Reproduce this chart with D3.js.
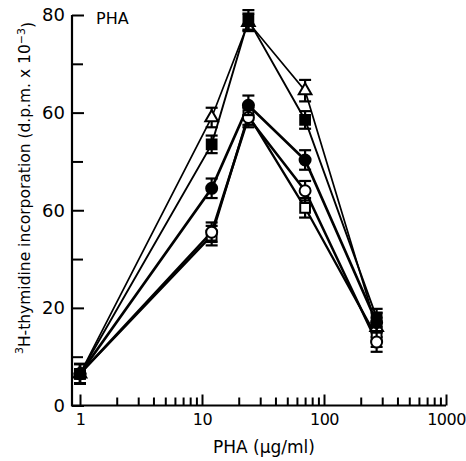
<!DOCTYPE html>
<html>
<head>
<meta charset="utf-8">
<script src="https://cdn.jsdelivr.net/npm/d3@7"></script>
<style>
	body { margin: 0; background: #fff; }
	svg text { font-family: "DejaVu Sans", sans-serif; fill: #000; }
</style>
</head>
<body>
<div id="chart"></div>
<script>
// chart data
var doses = [1, 12, 24, 70, 270];	// PHA ug/ml
var triangleVals = [6.5, 59, 78.5, 64.5, 16],
	triangleErr = [2, 2, 1.8, 2.2, 2];
var fSquareVals = [6.5, 53.5, 79, 58.5, 18],
	fSquareErr = [2, 1.8, 2, 1.8, 1.8];
var fCircleVals = [6.5, 44.5, 61.5, 50.3, 17],
	fCircleErr = [2, 2, 2, 2, 2];
var oCircleVals = [6.5, 35.5, 59, 44, 13],
	oCircleErr = [2, 2, 2, 2, 2];
var oSquareVals = [6.5, 34.8, 59.5, 40.5, 14],
	oSquareErr = [2, 2, 2, 2, 2];

var xTickVals = [1, 10, 100, 1000],
	xTickLabels = ["1", "10", "100", "1000"];
var yTickVals = [0, 20, 40, 60, 80],
	yTickLabels = ["0", "20", "60", "60", "80"];	// as printed on the figure

var series = [
	{ name: "openTriangle", vals: triangleVals, err: triangleErr, shape: "triangle", fill: "#fff", lw: 1.7 },
	{ name: "filledSquare", vals: fSquareVals, err: fSquareErr, shape: "square", fill: "#000", lw: 1.9 },
	{ name: "openSquare", vals: oSquareVals, err: oSquareErr, shape: "square", fill: "#fff", lw: 2.3 },
	{ name: "openCircle", vals: oCircleVals, err: oCircleErr, shape: "circle", fill: "#fff", lw: 2.5 },
	{ name: "filledCircle", vals: fCircleVals, err: fCircleErr, shape: "circle", fill: "#000", lw: 2.7 }
];

// viz params
var w = 466,
	h = 461;

var svg = d3.select("#chart").append("svg")
	.attr("width", w)
	.attr("height", h);

var x = d3.scaleLog().domain([1, 1000]).range([80, 446]),
	y = d3.scaleLinear().domain([0, 80]).range([405.5, 15]);

/* axes */
var xMinor = [];
[1, 10, 100].forEach(function(dec) {
	for (var k = 2; k < 10; k++) xMinor.push(dec * k);
});

var xAxisG = svg.append("g")
	.attr("transform", "translate(0," + y(0) + ")")
	.call(d3.axisBottom(x).tickValues(xTickVals).tickSize(-11).tickPadding(8)
		.tickFormat(function(d, i) { return xTickLabels[i]; }));
svg.append("g")
	.attr("transform", "translate(0," + y(0) + ")")
	.call(d3.axisBottom(x).tickValues(xMinor).tickSize(-8).tickFormat(""));

var yMinor = [10, 30, 50, 70];
var yAxisG = svg.append("g")
	.attr("transform", "translate(72,0)")
	.call(d3.axisLeft(y).tickValues(yTickVals).tickSize(-12).tickPadding(7)
		.tickFormat(function(d, i) { return yTickLabels[i]; }));
svg.append("g")
	.attr("transform", "translate(72,0)")
	.call(d3.axisLeft(y).tickValues(yMinor).tickSize(-11).tickFormat(""));

// plain L-shaped frame instead of the default domain paths
svg.selectAll(".domain").remove();
svg.append("path")
	.attr("d", "M72," + y(80) + "V" + y(0) + "H" + x(1000))
	.attr("fill", "none")
	.attr("stroke", "#000")
	.attr("stroke-width", 2.2);

svg.selectAll(".tick line").attr("stroke", "#000").attr("stroke-width", 2);
yAxisG.selectAll(".tick text").style("font-size", "18px");
// x labels a bit tighter so "1000" stays inside the page
xAxisG.selectAll(".tick text").style("font-size", "16px").style("letter-spacing", "-0.5px");

/* lines */
var line = d3.line()
	.x(function(d, i) { return x(doses[i]); })
	.y(function(d) { return y(d); });

svg.selectAll("path.series")
	.data(series)
	.enter()
	.append("path")
	.attr("class", "series")
	.attr("d", function(s) { return line(s.vals); })
	.attr("fill", "none")
	.attr("stroke", "#000")
	.attr("stroke-width", function(s) { return s.lw; });

/* error bars + markers */
series.forEach(function(s) {
	var g = svg.append("g").attr("class", "pts " + s.name);
	var pts = s.vals.map(function(v, i) { return { x: doses[i], v: v, e: s.err[i] }; });

	var bars = g.selectAll("g.bar").data(pts).enter().append("g").attr("class", "bar");
	bars.append("line")
		.attr("x1", function(d) { return x(d.x); })
		.attr("x2", function(d) { return x(d.x); })
		.attr("y1", function(d) { return y(d.v + d.e); })
		.attr("y2", function(d) { return y(d.v - d.e); });
	bars.append("line")
		.attr("x1", function(d) { return x(d.x) - 6; })
		.attr("x2", function(d) { return x(d.x) + 6; })
		.attr("y1", function(d) { return y(d.v + d.e); })
		.attr("y2", function(d) { return y(d.v + d.e); });
	bars.append("line")
		.attr("x1", function(d) { return x(d.x) - 6; })
		.attr("x2", function(d) { return x(d.x) + 6; })
		.attr("y1", function(d) { return y(d.v - d.e); })
		.attr("y2", function(d) { return y(d.v - d.e); });
	bars.selectAll("line").attr("stroke", "#000").attr("stroke-width", 2.2);

	var sym = s.shape == "circle" ? d3.symbolCircle : (s.shape == "square" ? d3.symbolSquare : d3.symbolTriangle);
	var size = s.shape == "triangle" ? 70 : 95;
	g.selectAll("path.mark").data(pts).enter().append("path")
		.attr("class", "mark")
		.attr("d", d3.symbol().type(sym).size(size))
		.attr("transform", function(d) { return "translate(" + x(d.x) + "," + y(d.v) + ")"; })
		.attr("fill", s.fill)
		.attr("stroke", "#000")
		.attr("stroke-width", 2);
});

/* labels */
svg.append("text")
	.attr("x", 96)
	.attr("y", 24)
	.style("font-size", "16px")
	.text("PHA");

svg.append("text")
	.attr("x", 264)
	.attr("y", 453)
	.attr("text-anchor", "middle")
	.style("font-size", "17px")
	.text("PHA (\u00b5g/ml)");

var yTitle = svg.append("text")
	.attr("transform", "translate(28,188) rotate(-90)")
	.attr("text-anchor", "middle")
	.style("font-size", "15.5px");
yTitle.append("tspan").attr("dy", "-0.5em").style("font-size", "11px").text("3");
yTitle.append("tspan").attr("dy", "0.5em").text("H-thymidine incorporation (d.p.m. x 10");
yTitle.append("tspan").attr("dy", "-0.5em").style("font-size", "11px").text("\u22123");
yTitle.append("tspan").attr("dy", "0.5em").text(")");
</script>
</body>
</html>
